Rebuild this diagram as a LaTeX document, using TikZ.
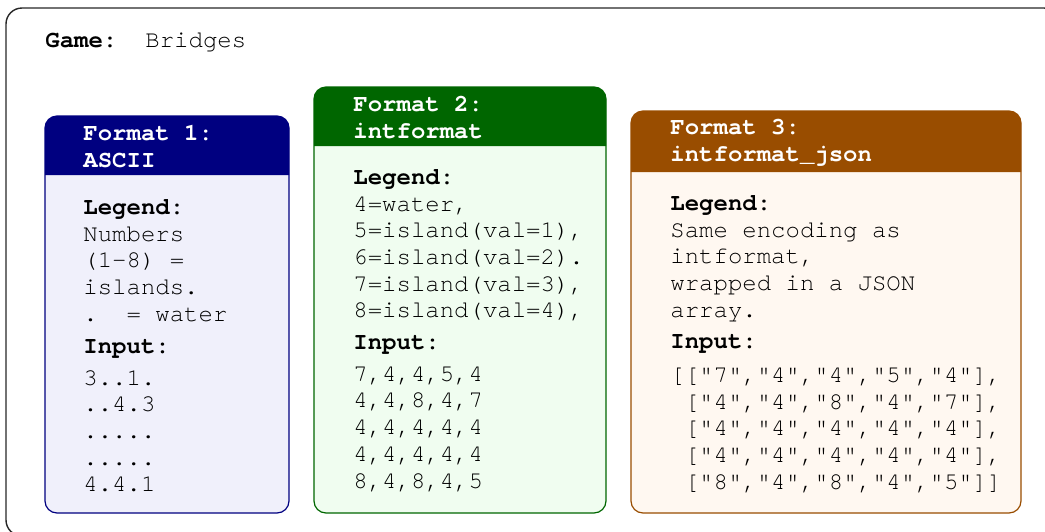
\documentclass[tikz,border=0pt]{standalone}
\usepackage{fontspec}
\newfontfamily\codefont{TeX Gyre Cursor}

\definecolor{asciiblue}{RGB}{0,0,128}
\definecolor{asciifill}{RGB}{240,240,251}
\definecolor{intgreen}{RGB}{0,102,0}
\definecolor{intfill}{RGB}{240,253,240}
\definecolor{jsonbrown}{RGB}{153,77,0}
\definecolor{jsonfill}{RGB}{255,248,241}

\tikzset{
    frame/.style={draw=black!85, line width=0.7pt, rounded corners=8pt},
    panel/.style={line width=0.6pt, rounded corners=6pt},
    headtext/.style={anchor=north west, inner sep=0pt, align=left, text=white,
        font=\codefont\bfseries\fontsize{12}{13.5}\selectfont},
    bodytext/.style={anchor=north west, inner sep=0pt, align=left,
        font=\codefont\fontsize{12}{13.35}\selectfont},
}

\begin{document}
\begin{tikzpicture}[x=0.5pt,y=-0.5pt]
    \useasboundingbox (0,0) rectangle (1045,531);
    \clip (0,0) rectangle (1045,531);
    %Rahmen
    \draw[frame] (6,8) rectangle (1060,536);
    \node[anchor=base west, inner sep=0pt, font=\codefont\bfseries\fontsize{12}{13.5}\selectfont] (title) at (45,47) {Game:};
    \node[anchor=base west, inner sep=0pt, font=\codefont\fontsize{12}{13.5}\selectfont] (gamename) at (145,47) {Bridges};

    %Format 1
    \fill[panel, asciifill] (45,116) rectangle (289,513);
    \fill[asciiblue] (45,175) [rounded corners=6pt] -- (45,116) -- (289,116) [sharp corners] -- (289,175) -- cycle;
    \draw[panel, asciiblue] (45,116) rectangle (289,513);
    \node[headtext] (head1) at (83,125) {Format 1:\\ASCII};
    \node[bodytext] (body1) at (83,199) {{\bfseries Legend:}\\
        Numbers\\
        (1-8) =\\
        islands.\\
        .~~=~water\\[2.75pt]
        {\bfseries Input:}\\[2.5pt]
        3..1.\\
        ..4.3\\
        .....\\
        .....\\
        4.4.1};

    %Format 2
    \fill[panel, intfill] (314,87) rectangle (606,513);
    \fill[intgreen] (314,146) [rounded corners=6pt] -- (314,87) -- (606,87) [sharp corners] -- (606,146) -- cycle;
    \draw[panel, intgreen] (314,87) rectangle (606,513);
    \node[headtext] (head2) at (353,96) {Format 2:\\intformat};
    \node[bodytext] (body2) at (353,169) {{\bfseries Legend:}\\
        4=water,\\
        5=island(val=1),\\
        6=island(val=2).\\
        7=island(val=3),\\
        8=island(val=4),\\[2.5pt]
        {\bfseries Input:}\\[2.5pt]
        7,4,4,5,4\\
        4,4,8,4,7\\
        4,4,4,4,4\\
        4,4,4,4,4\\
        8,4,8,4,5};

    %Format 3
    \fill[panel, jsonfill] (631,111) rectangle (1021,513);
    \fill[jsonbrown] (631,172) [rounded corners=6pt] -- (631,111) -- (1021,111) [sharp corners] -- (1021,172) -- cycle;
    \draw[panel, jsonbrown] (631,111) rectangle (1021,513);
    \node[headtext] (head3) at (670,119) {Format 3:\\intformat\_json};
    \node[bodytext] (body3) at (670,195) {{\bfseries Legend:}\\
        Same encoding as\\
        intformat,\\
        wrapped in a JSON\\
        array.\\[2.5pt]
        {\bfseries Input:}\\[3.5pt]
        [["7","4","4","5","4"],\\
        ~["4","4","8","4","7"],\\
        ~["4","4","4","4","4"],\\
        ~["4","4","4","4","4"],\\
        ~["8","4","8","4","5"]]};
\end{tikzpicture}
\end{document}
